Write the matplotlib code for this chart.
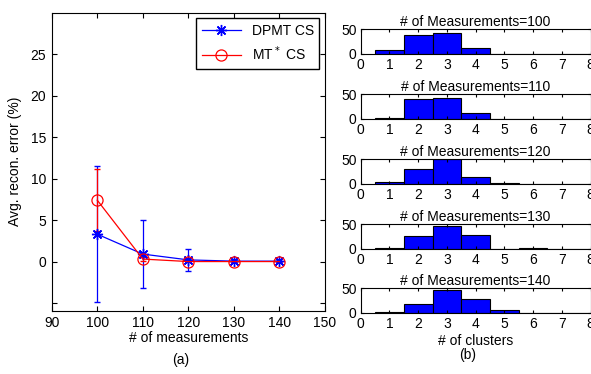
import matplotlib
matplotlib.use('Agg')
import matplotlib.pyplot as plt

plt.rcParams['font.family'] = ['Liberation Sans', 'DejaVu Sans']
plt.rcParams['font.size'] = 10
plt.rcParams['xtick.direction'] = 'in'
plt.rcParams['ytick.direction'] = 'in'
plt.rcParams['xtick.top'] = True
plt.rcParams['ytick.right'] = True

# left panel data
meas = [100, 110, 120, 130, 140]
dpmt_mean = [3.3, 0.9, 0.2, 0.05, 0.05]
dpmt_err = [8.2, 4.1, 1.3, 0.1, 0.05]
mt_mean = [7.4, 0.3, 0.0, 0.0, 0.0]
mt_err = [3.7, 0.2, 0.1, 0.05, 0.05]

# right panel data: histogram counts per number of clusters
clusters = [1, 2, 3, 4, 5, 6, 7, 8]
hist_titles = ['# of Measurements=100', '# of Measurements=110', '# of Measurements=120',
               '# of Measurements=130', '# of Measurements=140']
hist_counts = [
    [8, 39, 42, 11, 0.5, 0, 0, 0],
    [2, 40, 43, 13, 0, 0, 0, 0],
    [4, 31, 50, 14, 1, 0, 0, 0],
    [1, 26, 45, 27, 0, 1, 0, 0],
    [2, 18, 46, 28, 6, 0, 0, 0],
]

W, H = 591, 374
fig = plt.figure(figsize=(W / 100, H / 100), dpi=100)

ax = fig.add_axes([51.7 / W, 1 - 310.5 / H, (325 - 51.7) / W, (310.5 - 12.7) / H])
star = (8, 2, 0)  # asterisk like matlab '*'
ax.errorbar(meas, dpmt_mean, yerr=dpmt_err, fmt='none', ecolor='#0000ff',
            elinewidth=0.9, capsize=2)
ax.errorbar(meas, mt_mean, yerr=mt_err, fmt='none', ecolor='#ff0000',
            elinewidth=0.9, capsize=2)
ax.plot(meas, dpmt_mean, color='#0000ff', marker=star, ms=8, mew=1.0, lw=0.9, label='DPMT CS')
ax.plot(meas, mt_mean, color='#ff0000', marker='o', ms=8, mfc='none', mew=0.9, lw=0.9,
        label='MT$^*$ CS')
ax.set_xlim(90, 150)
ax.set_ylim(-5.9, 30)
ax.set_xticks([90, 100, 110, 120, 130, 140, 150])
ax.set_yticks([-5, 0, 5, 10, 15, 20, 25])
ax.set_yticklabels(['', '0', '5', '10', '15', '20', '25'])
ax.tick_params(pad=4)
ax.set_xlabel('# of measurements', labelpad=1)
ax.set_ylabel('Avg. recon. error (%)', labelpad=6)
leg = ax.legend(loc='upper right', fancybox=False, edgecolor='black', framealpha=1,
                borderaxespad=0.4, handlelength=2.8, fontsize=10)
leg.get_frame().set_linewidth(1.0)
fig.text(181 / W, 1 - 360 / H, '(a)', ha='center', va='center')

# right histograms
left = 360.7
right = 590.5
tops = [29.3, 94.5, 159.3, 224.0, 288.3]
hgt = 24.5
for i in range(5):
    hx = fig.add_axes([left / W, 1 - (tops[i] + hgt) / H, (right - left) / W, hgt / H])
    hx.bar(clusters, hist_counts[i], width=1.0, color='#0000ff', edgecolor='black', lw=0.8)
    hx.set_xlim(0, 8)
    hx.set_ylim(0, 50)
    hx.set_xticks(range(9))
    hx.set_yticks([0, 50])
    hx.tick_params(length=2.5, pad=3)
    hx.set_title(hist_titles[i], fontsize=10, pad=1)
    if i == 4:
        hx.set_xlabel('# of clusters', labelpad=2)
fig.text(468 / W, 1 - 355 / H, '(b)', ha='center', va='center')

fig.savefig('out.png', dpi=100)
